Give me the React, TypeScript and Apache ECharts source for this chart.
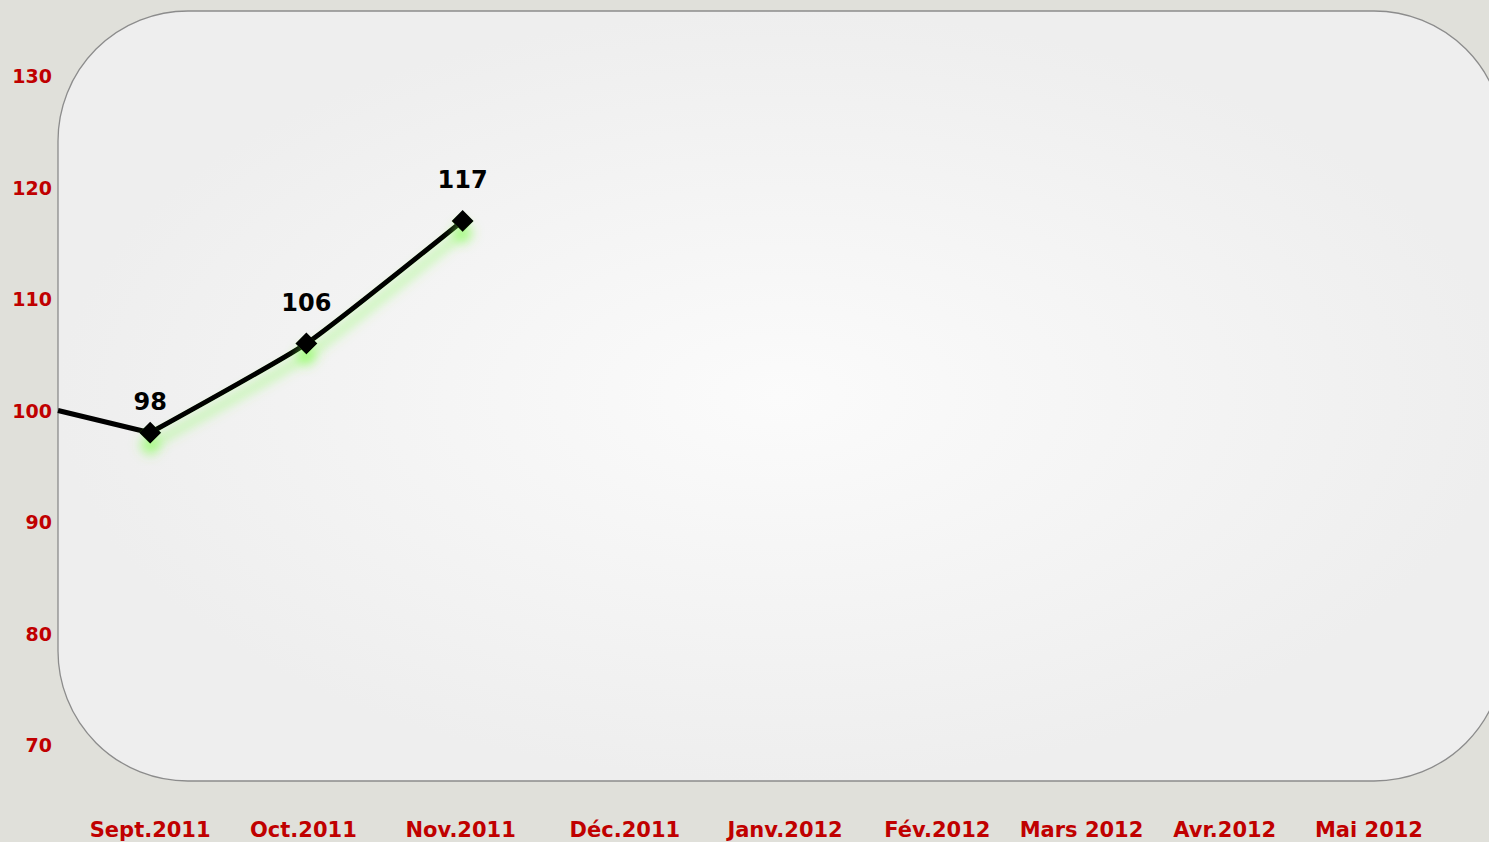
import React, { useEffect, useRef } from "react";
import * as echarts from "echarts";

const months = [
  "Sept.2011",
  "Oct.2011",
  "Nov.2011",
  "Déc.2011",
  "Janv.2012",
  "Fév.2012",
  "Mars 2012",
  "Avr.2012",
  "Mai 2012",
];
const monthIndex = [0, 1, 2, 3, 4, 5, 6, 7, 8];
const indexValues = [98, 106, 117];
const baseStart = -0.59; // left edge of the plot, where the base index starts
const baseValue = 100;
const yTicks = { min: 70, max: 130, interval: 10 };

// horizontal nudges of the month labels (px), as laid out in the original
const labelNudge = [0, -3, -2, 6, 10, 6, -6, -19, -31];

const RED = "#c00000";
const FONT = "'DejaVu Sans', Verdana, sans-serif";

export default function App() {
  const ref = useRef<HTMLDivElement>(null);
  useEffect(() => {
    document.body.style.margin = "0";
    const chart = echarts.init(ref.current!, null, { renderer: "svg" });
    const mainData = indexValues.map((v, i) =>
      i === 0
        ? { value: [monthIndex[i], v], label: { distance: 8 } }
        : { value: [monthIndex[i], v] }
    );
    const rich: Record<string, any> = {};
    labelNudge.forEach((n, i) => {
      rich["m" + i] = {
        color: RED,
        fontFamily: FONT,
        fontWeight: "bold",
        fontSize: 21,
        padding: n >= 0 ? [0, 0, 0, 2 * n] : [0, -2 * n, 0, 0],
      };
    });
    chart.setOption({
      animation: false,
      backgroundColor: "#e0e0da",
      graphic: [
        {
          type: "rect",
          z: -10,
          shape: { x: 58, y: 11, width: 1446, height: 770, r: 130 },
          style: {
            fill: new echarts.graphic.RadialGradient(0.5, 0.5, 0.5, [
              { offset: 0, color: "#fbfbfb" },
              { offset: 1, color: "#eeeeee" },
            ]),
            stroke: "#8c8c8c",
            lineWidth: 1.3,
          },
        },
      ],
      grid: { left: 58, right: -3, top: 76, bottom: 97 },
      xAxis: {
        type: "value",
        min: baseStart,
        max: 8.57,
        axisLine: { show: false },
        axisTick: { show: false },
        splitLine: { show: false },
        axisLabel: {
          customValues: monthIndex,
          formatter: (v: number) => {
            const i = Math.round(v);
            return months[i] ? `{m${i}|${months[i]}}` : "";
          },
          rich,
          color: RED,
          fontFamily: FONT,
          fontWeight: "bold",
          fontSize: 21,
          margin: 74,
          hideOverlap: false,
        },
      },
      yAxis: {
        type: "value",
        min: yTicks.min,
        max: yTicks.max,
        interval: yTicks.interval,
        axisLine: { show: false },
        axisTick: { show: false },
        splitLine: { show: false },
        axisLabel: {
          color: RED,
          fontFamily: FONT,
          fontWeight: "bold",
          fontSize: 19,
          margin: 6,
        },
      },
      series: [
        {
          type: "line",
          data: [
            [baseStart, baseValue],
            [monthIndex[0], indexValues[0]],
          ],
          showSymbol: false,
          symbol: "none",
          lineStyle: { color: "#000", width: 5 },
          z: 3,
        },
        {
          type: "line",
          data: mainData,
          smooth: 0.15,
          symbol: "diamond",
          symbolSize: 22,
          itemStyle: {
            color: "#000",
            shadowColor: "rgba(130,255,80,0.7)",
            shadowBlur: 12,
            shadowOffsetY: 12,
          },
          lineStyle: {
            color: "#000",
            width: 5,
            shadowColor: "rgba(130,255,80,0.7)",
            shadowBlur: 12,
            shadowOffsetY: 12,
          },
          label: {
            show: true,
            position: "top",
            distance: 18,
            color: "#000",
            fontFamily: FONT,
            fontWeight: "bold",
            fontSize: 24,
          },
          z: 4,
        },
      ],
    });
    return () => chart.dispose();
  }, []);
  return <div ref={ref} style={{ width: 1489, height: 842 }} />;
}
